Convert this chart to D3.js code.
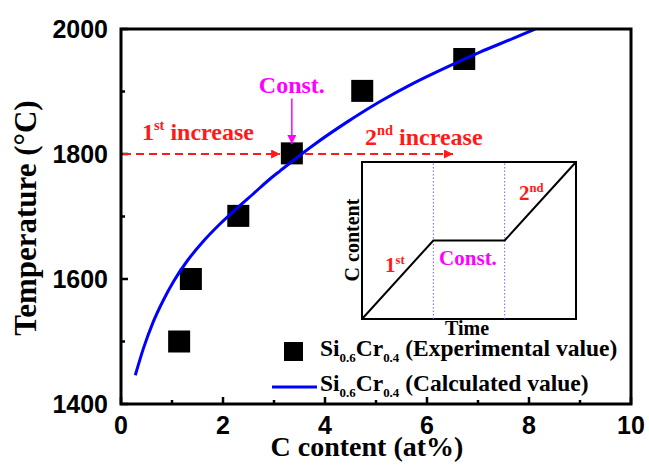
<!DOCTYPE html>
<html>
<head>
<meta charset="utf-8">
<script src="https://cdn.jsdelivr.net/npm/d3@7"></script>
<style>
	body { margin: 0; background: #fff; }
	svg { display: block; }
	.tick-label { font-family: "Liberation Sans", Arial, sans-serif; font-weight: bold; font-size: 25px; fill: #000; }
	.serif { font-family: "Liberation Serif", "Times New Roman", serif; font-weight: bold; }
</style>
</head>
<body>
<svg id="chart"></svg>
<script>
// experimental points (C content at%, temperature °C)
const expX = [1.14, 1.37, 2.30, 3.35, 4.73, 6.73];
const expT = [1500, 1600, 1701, 1801, 1901, 1952];

// calculated curve
const calcX = [0.28, 0.44, 0.63, 0.83, 1.03, 1.29, 1.61, 1.94, 2.27, 2.59, 2.92, 3.12, 3.77, 4.43, 5.08, 5.73, 6.39, 7.04, 7.69, 8.12];
const calcT = [1446, 1489, 1531, 1566, 1596, 1628, 1660, 1688, 1713, 1736, 1760, 1773, 1814, 1851, 1884, 1913, 1939, 1963, 1985, 2000];

const xTicks = [0, 2, 4, 6, 8, 10];
const xMinor = [1, 3, 5, 7, 9];
const yTicks = [1400, 1600, 1800, 2000];
const yMinor = [1500, 1700, 1900];

// inset schematic: time vs C content
const insetTime = [0, 1, 2, 3];
const insetC = [0, 1, 1, 2];

function init() {
	let width = 649, height = 466;
	let left = 121, right = 631, top = 29, bottom = 404;

	let svg = d3.select("svg#chart")
		.attr("width", width)
		.attr("height", height);

	let x = d3.scaleLinear().domain([0, 10]).range([left, right]);
	let y = d3.scaleLinear().domain([1400, 2000]).range([bottom, top]);

	let defs = svg.append("defs");
	function marker(id, color, w, h) {
		defs.append("marker")
			.attr("id", id)
			.attr("viewBox", "0 0 10 10")
			.attr("refX", 10).attr("refY", 5)
			.attr("markerWidth", w).attr("markerHeight", h)
			.attr("markerUnits", "userSpaceOnUse")
			.attr("orient", "auto")
			.append("path")
			.attr("d", "M0,0 L10,5 L0,10 Z")
			.attr("fill", color);
	}
	marker("redhead", "#ff1a1a", 12, 9);
	marker("maghead", "#ff00ff", 9, 9);

	svg.append("clipPath").attr("id", "plotclip")
		.append("rect")
		.attr("x", left).attr("y", top)
		.attr("width", right - left).attr("height", bottom - top);

	// ticks (inward)
	let tickG = svg.append("g").attr("stroke", "#000").attr("stroke-width", 2.5);
	tickG.selectAll("line.xmaj").data(xTicks).enter().append("line")
		.attr("x1", d => x(d)).attr("x2", d => x(d))
		.attr("y1", bottom).attr("y2", bottom - 7);
	tickG.selectAll("line.xmin").data(xMinor).enter().append("line")
		.attr("x1", d => x(d)).attr("x2", d => x(d))
		.attr("y1", bottom).attr("y2", bottom - 4);
	tickG.selectAll("line.ymaj").data(yTicks).enter().append("line")
		.attr("y1", d => y(d)).attr("y2", d => y(d))
		.attr("x1", left).attr("x2", left + 7);
	tickG.selectAll("line.ymin").data(yMinor).enter().append("line")
		.attr("y1", d => y(d)).attr("y2", d => y(d))
		.attr("x1", left).attr("x2", left + 4);

	svg.selectAll("text.xl").data(xTicks).enter().append("text")
		.attr("class", "tick-label")
		.attr("x", d => x(d)).attr("y", 434)
		.attr("text-anchor", "middle")
		.text(d => d);
	svg.selectAll("text.yl").data(yTicks).enter().append("text")
		.attr("class", "tick-label")
		.attr("x", left - 13).attr("y", d => y(d) + 9)
		.attr("text-anchor", "end")
		.text(d => d);

	// axis titles
	svg.append("text").attr("class", "serif")
		.attr("x", 367).attr("y", 456)
		.attr("text-anchor", "middle")
		.style("font-size", "28px")
		.text("C content (at%)");
	svg.append("text").attr("class", "serif")
		.attr("transform", "translate(36,218) rotate(-90)")
		.attr("text-anchor", "middle")
		.style("font-size", "31px")
		.text("Temperature (°C)");

	// dashed red arrows at 1800
	let arrows = [[0, 3.12], [3.57, 6.51]];
	svg.selectAll("line.red").data(arrows).enter().append("line")
		.attr("x1", d => x(d[0]) + 2).attr("x2", d => x(d[1]))
		.attr("y1", y(1800)).attr("y2", y(1800))
		.attr("stroke", "#ff1a1a").attr("stroke-width", 2)
		.attr("stroke-dasharray", "8,5")
		.attr("marker-end", "url(#redhead)");

	// experimental squares
	svg.selectAll("rect.exp").data(expX).enter().append("rect")
		.attr("x", (d) => x(d) - 11)
		.attr("y", (d, i) => y(expT[i]) - 11)
		.attr("width", 22).attr("height", 22)
		.attr("fill", "#000");

	// calculated curve
	let line = d3.line()
		.x((d) => x(d))
		.y((d, i) => y(calcT[i]))
		.curve(d3.curveMonotoneX);
	svg.append("path")
		.datum(calcX)
		.attr("d", line)
		.attr("clip-path", "url(#plotclip)")
		.attr("fill", "none")
		.attr("stroke", "#0000ff")
		.attr("stroke-width", 3);

	// annotation labels
	function ordinal(g, num, sup, rest, size) {
		let t = g.append("tspan").text(num);
		g.append("tspan").attr("dy", -size * 0.4).style("font-size", (size * 0.6) + "px").text(sup);
		if (rest) g.append("tspan").attr("dy", size * 0.4).text(rest);
		return t;
	}
	let t1 = svg.append("text").attr("class", "serif")
		.attr("x", 142).attr("y", 140)
		.style("font-size", "24px").attr("fill", "#ff1a1a");
	ordinal(t1, "1", "st", " increase", 24);
	let t2 = svg.append("text").attr("class", "serif")
		.attr("x", 365).attr("y", 145)
		.style("font-size", "24px").attr("fill", "#ff1a1a");
	ordinal(t2, "2", "nd", " increase", 24);

	svg.append("text").attr("class", "serif")
		.attr("x", x(3.35)).attr("y", y(1898))
		.attr("text-anchor", "middle")
		.style("font-size", "24px").attr("fill", "#ff00ff")
		.text("Const.");
	svg.append("line")
		.attr("x1", x(3.35)).attr("x2", x(3.35))
		.attr("y1", y(1889)).attr("y2", y(1816))
		.attr("stroke", "#ff00ff").attr("stroke-width", 1.5)
		.attr("marker-end", "url(#maghead)");

	// inset
	let ix = d3.scaleLinear().domain([0, 3]).range([362, 576]);
	let iy = d3.scaleLinear().domain([0, 2]).range([319, 162]);
	let inset = svg.append("g");
	inset.append("rect")
		.attr("x", ix(0)).attr("y", iy(2))
		.attr("width", ix(3) - ix(0)).attr("height", iy(0) - iy(2))
		.attr("fill", "#fff").attr("stroke", "#000").attr("stroke-width", 2);
	inset.selectAll("line.div").data([1, 2]).enter().append("line")
		.attr("x1", d => ix(d)).attr("x2", d => ix(d))
		.attr("y1", iy(0)).attr("y2", iy(2))
		.attr("stroke", "#6a6aff").attr("stroke-width", 1)
		.attr("stroke-dasharray", "1.5,2");
	inset.append("path")
		.datum(insetTime)
		.attr("d", d3.line().x(d => ix(d)).y((d, i) => iy(insetC[i])))
		.attr("fill", "none").attr("stroke", "#000").attr("stroke-width", 2);
	inset.append("text").attr("class", "serif")
		.attr("transform", "translate(359,240) rotate(-90)")
		.attr("text-anchor", "middle")
		.style("font-size", "20px")
		.text("C content");
	inset.append("text").attr("class", "serif")
		.attr("x", 467).attr("y", 335)
		.attr("text-anchor", "middle")
		.style("font-size", "20px")
		.text("Time");
	let i1 = inset.append("text").attr("class", "serif")
		.attr("x", 385).attr("y", 272)
		.style("font-size", "21px").attr("fill", "#ff1a1a");
	ordinal(i1, "1", "st", null, 21);
	let i2 = inset.append("text").attr("class", "serif")
		.attr("x", 519).attr("y", 200)
		.style("font-size", "21px").attr("fill", "#ff1a1a");
	ordinal(i2, "2", "nd", null, 21);
	inset.append("text").attr("class", "serif")
		.attr("x", 468).attr("y", 265)
		.attr("text-anchor", "middle")
		.style("font-size", "21px").attr("fill", "#ff00ff")
		.text("Const.");

	// legend
	function siCr(g, size, rest) {
		let sub = size * 0.55;
		g.append("tspan").text("Si");
		g.append("tspan").attr("dy", size * 0.25).style("font-size", sub + "px").text("0.6");
		g.append("tspan").attr("dy", -size * 0.25).text("Cr");
		g.append("tspan").attr("dy", size * 0.25).style("font-size", sub + "px").text("0.4");
		g.append("tspan").attr("dy", -size * 0.25).text(rest);
	}
	svg.append("rect")
		.attr("x", 284).attr("y", 342).attr("width", 19).attr("height", 19)
		.attr("fill", "#000");
	let l1 = svg.append("text").attr("class", "serif")
		.attr("x", 320).attr("y", 356).style("font-size", "23.5px");
	siCr(l1, 23.5, " (Experimental value)");
	svg.append("line")
		.attr("x1", 272).attr("x2", 317).attr("y1", 387).attr("y2", 387)
		.attr("stroke", "#0000ff").attr("stroke-width", 3);
	let l2 = svg.append("text").attr("class", "serif")
		.attr("x", 320).attr("y", 391).style("font-size", "23.5px");
	siCr(l2, 23.5, " (Calculated value)");

	// frame
	svg.append("rect")
		.attr("x", left).attr("y", top)
		.attr("width", right - left).attr("height", bottom - top)
		.attr("fill", "none").attr("stroke", "#000").attr("stroke-width", 3);
}

init();
</script>
</body>
</html>
